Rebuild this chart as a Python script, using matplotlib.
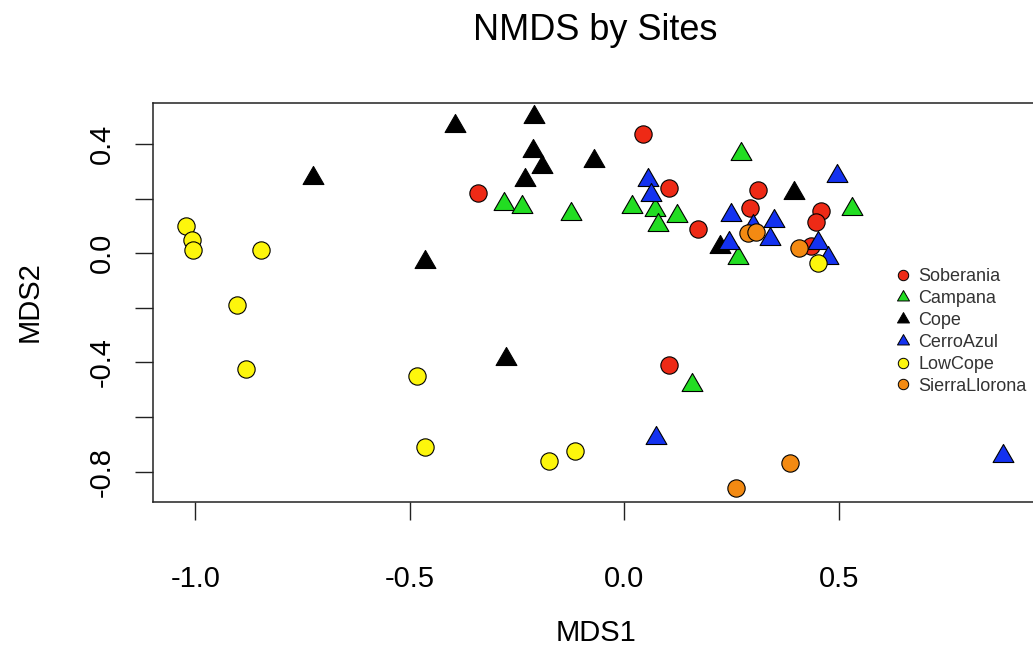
import matplotlib as mpl
mpl.use('agg')
import matplotlib.pyplot as plt
from matplotlib.path import Path
from matplotlib.lines import Line2D
import numpy as np

plt.rcParams['font.family'] = ['Liberation Sans', 'DejaVu Sans']
plt.rcParams['axes.unicode_minus'] = False

# NMDS scores, one pair of lists per site
soberania_x = [0.044, -0.340, 0.105, 0.172, 0.312, 0.294, 0.459, 0.448, 0.105, 0.435]
soberania_y = [0.437, 0.220, 0.239, 0.089, 0.232, 0.166, 0.155, 0.115, -0.409, 0.027]

campana_x = [0.273, -0.280, -0.238, -0.124, 0.019, 0.072, 0.079, 0.124, 0.531, 0.266, 0.159]
campana_y = [0.364, 0.180, 0.170, 0.145, 0.170, 0.159, 0.105, 0.138, 0.163, -0.016, -0.481]

cope_x = [-0.210, -0.394, -0.727, -0.212, -0.191, -0.231, -0.070, 0.396, -0.464, -0.275, 0.224]
cope_y = [0.500, 0.467, 0.277, 0.375, 0.317, 0.269, 0.339, 0.222, -0.031, -0.389, 0.024]

cerroazul_x = [0.056, 0.063, 0.497, 0.249, 0.350, 0.301, 0.340, 0.245, 0.452, 0.476, 0.075, 0.883]
cerroazul_y = [0.268, 0.214, 0.284, 0.141, 0.119, 0.101, 0.053, 0.039, 0.039, -0.016, -0.677, -0.742]

lowcope_x = [-1.021, -1.007, -1.005, -0.846, -0.902, -0.881, -0.483, -0.464, -0.175, -0.114, 0.452]
lowcope_y = [0.100, 0.049, 0.012, 0.012, -0.189, -0.424, -0.449, -0.709, -0.760, -0.724, -0.036]

sierra_x = [0.289, 0.308, 0.408, 0.261, 0.387]
sierra_y = [0.074, 0.078, 0.020, -0.860, -0.768]

sites = ['Soberania', 'Campana', 'Cope', 'CerroAzul', 'LowCope', 'SierraLlorona']
site_x = [soberania_x, campana_x, cope_x, cerroazul_x, lowcope_x, sierra_x]
site_y = [soberania_y, campana_y, cope_y, cerroazul_y, lowcope_y, sierra_y]
colors = ['#ee2a16', '#22dd22', '#000000', '#1432f0', '#fdf60c', '#f38a12']
shapes = ['o', 'tri', 'tri', 'tri', 'o', 'o']

xticks = [-1.0, -0.5, 0.0, 0.5]
yticks = [-0.8, -0.6, -0.4, -0.2, 0.0, 0.2, 0.4]
ylabels = ['-0.8', '', '-0.4', '', '0.0', '', '0.4']

# R style triangle (point sits at the centroid, not the box centre)
tri = Path([(0, 1.155), (-1, -0.577), (1, -0.577), (0, 1.155)],
           [Path.MOVETO, Path.LINETO, Path.LINETO, Path.CLOSEPOLY])

fig = plt.figure(figsize=(10.33, 6.5), dpi=100)
ax = fig.add_axes([153/1033, 147.7/650, 885/1033, 399.8/650])

for name, xs, ys, c, sh in zip(sites, site_x, site_y, colors, shapes):
	if sh == 'o':
		ax.scatter(xs, ys, s=155, marker='o', c=c, edgecolors='black', linewidths=0.8, zorder=3)
	else:
		ax.scatter(xs, ys, s=300, marker=tri, c=c, edgecolors='black', linewidths=0.8, zorder=3)

ax.set_xlim(-1.099, 0.965)
ax.set_ylim(-0.912, 0.552)

ax.set_xticks(xticks)
ax.set_xticklabels(['%.1f' % v for v in xticks])
ax.set_yticks(yticks)
ax.set_yticklabels(ylabels, rotation=90, va='center')
ax.tick_params(axis='both', length=13, width=1, labelsize=21, color='#222222')
ax.tick_params(axis='x', pad=32)
ax.tick_params(axis='y', pad=14)
for sp in ax.spines.values():
	sp.set_linewidth(1.1)
	sp.set_color('#222222')

# legend, no box
handles = []
for name, c, sh in zip(sites, colors, shapes):
	if sh == 'o':
		handles.append(Line2D([], [], ls='none', marker='o', ms=7.5, mfc=c, mec='black', mew=0.7))
	else:
		handles.append(Line2D([], [], ls='none', marker=tri, ms=10, mfc=c, mec='black', mew=0.7))
ax.legend(handles, sites, loc='upper left', bbox_to_anchor=(0.8395, 0.585), frameon=False,
          fontsize=13, borderaxespad=0, borderpad=0, handlelength=0.8, handletextpad=0.45,
          labelspacing=0.27, labelcolor='#333333')

fig.text(595.5/1033, 1 - 31/650, 'NMDS by Sites', ha='center', va='center', fontsize=26)
fig.text(595.5/1033, 1 - 633/650, 'MDS1', ha='center', va='center', fontsize=21)
fig.text(30/1033, 1 - 302/650, 'MDS2', ha='center', va='center', fontsize=21, rotation=90)

fig.savefig('out.png', dpi=100)
